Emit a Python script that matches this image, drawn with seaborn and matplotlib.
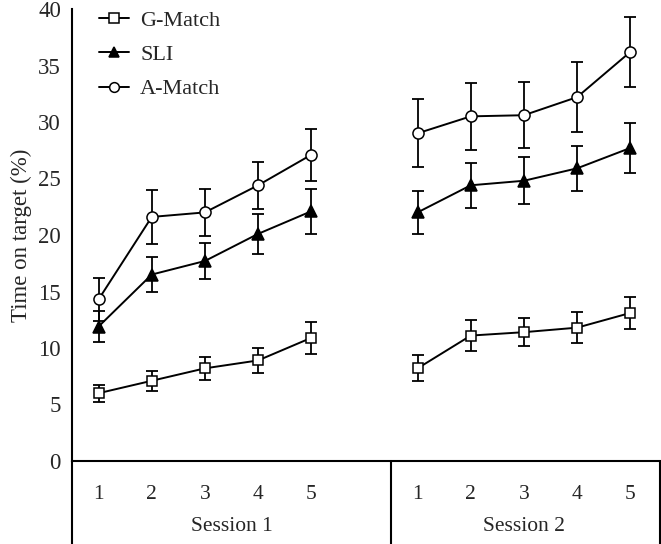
import numpy as np
import pandas as pd
import seaborn as sns
import matplotlib.pyplot as plt
from matplotlib.lines import Line2D

# data (means and error bar half-widths)
trials = [1, 2, 3, 4, 5]
sessions = ["Session 1", "Session 2"]
groups = ["G-Match", "SLI", "A-Match"]

g_match_s1 = [6.0, 7.1, 8.2, 8.9, 10.9]
g_match_s2 = [8.2, 11.1, 11.4, 11.8, 13.1]
sli_s1 = [11.9, 16.5, 17.7, 20.1, 22.1]
sli_s2 = [22.0, 24.4, 24.8, 25.9, 27.7]
a_match_s1 = [14.3, 21.6, 22.0, 24.4, 27.1]
a_match_s2 = [29.0, 30.5, 30.6, 32.2, 36.2]

g_match_err_s1 = [0.75, 0.9, 1.0, 1.1, 1.4]
g_match_err_s2 = [1.15, 1.4, 1.25, 1.35, 1.4]
sli_err_s1 = [1.35, 1.55, 1.6, 1.8, 2.0]
sli_err_s2 = [1.9, 2.0, 2.1, 2.0, 2.2]
a_match_err_s1 = [1.9, 2.4, 2.1, 2.1, 2.3]
a_match_err_s2 = [3.0, 2.95, 2.9, 3.1, 3.1]

means = {"G-Match": (g_match_s1, g_match_s2), "SLI": (sli_s1, sli_s2),
         "A-Match": (a_match_s1, a_match_s2)}
errs = {"G-Match": (g_match_err_s1, g_match_err_s2), "SLI": (sli_err_s1, sli_err_s2),
        "A-Match": (a_match_err_s1, a_match_err_s2)}
markers = {"G-Match": ("s", "white"), "SLI": ("^", "black"), "A-Match": ("o", "white")}
msize = {"G-Match": 7.5, "SLI": 8.5, "A-Match": 8}

rows = []
for g in groups:
    for si, s in enumerate(sessions):
        for t, m, e in zip(trials, means[g][si], errs[g][si]):
            rows.append({"group": g, "session": s, "trial": t,
                         "pos": t + si * 6, "value": m, "err": e})
df = pd.DataFrame(rows)

sns.set_style("ticks")
plt.rcParams["font.family"] = ["Liberation Serif", "DejaVu Serif"]
plt.rcParams["font.size"] = 15

fig = plt.figure(figsize=(6.61, 5.44), dpi=100)
ax = fig.add_axes([72 / 661, 1 - 461 / 544, (659.5 - 72) / 661, (461 - 9) / 544])

for g in groups:
    mk, fc = markers[g]
    for s in sessions:
        d = df[(df.group == g) & (df.session == s)]
        ax.errorbar(d["pos"], d["value"], yerr=d["err"], fmt="none",
                    ecolor="black", elinewidth=1.3, capsize=4.5, capthick=1.3, zorder=2)
        sns.lineplot(data=d, x="pos", y="value", ax=ax, color="black", lw=1.4,
                     marker=mk, markersize=msize[g], markerfacecolor=fc,
                     markeredgecolor="black", markeredgewidth=1.1, zorder=3)

ax.set_xlim(0.5, 11.55)
ax.set_ylim(0, 40)
ax.set_yticks(np.arange(0, 41, 5))
ax.tick_params(axis="y", length=0, pad=8, labelsize=16.5)
ax.set_xticks(df["pos"].unique())
ax.set_xticklabels([str(t) for t in trials] * 2)
ax.tick_params(axis="x", length=0, pad=17, labelsize=15.5)
ax.set_xlabel("")
ax.set_ylabel("Time on target (%)", fontsize=16.5, labelpad=4)
for sp in ["top", "right"]:
    ax.spines[sp].set_visible(False)
for sp in ["left", "bottom"]:
    ax.spines[sp].set_linewidth(1.5)
    ax.spines[sp].set_color("black")

# table box under the axis
for xv in [0.5, 6.5, 11.55]:
    ax.axvline(xv, ymin=-0.2, ymax=0, color="black", lw=1.5, clip_on=False)
trans = ax.get_xaxis_transform()
ax.text(3.5, -0.146, "Session 1", transform=trans, ha="center", va="center", fontsize=15.5)
ax.text(9.0, -0.146, "Session 2", transform=trans, ha="center", va="center", fontsize=15.5)

handles = []
for g in groups:
    mk, fc = markers[g]
    handles.append(Line2D([], [], color="black", lw=1.4, marker=mk, markersize=msize[g] - 1,
                          markerfacecolor=fc, markeredgecolor="black", markeredgewidth=1.1))
ax.legend(handles, groups, loc="upper left", bbox_to_anchor=(0.027, 1.022), frameon=False,
          handlelength=1.35, handletextpad=0.5, labelspacing=0.62, borderpad=0, fontsize=16)

fig.savefig("out.png", dpi=100)
